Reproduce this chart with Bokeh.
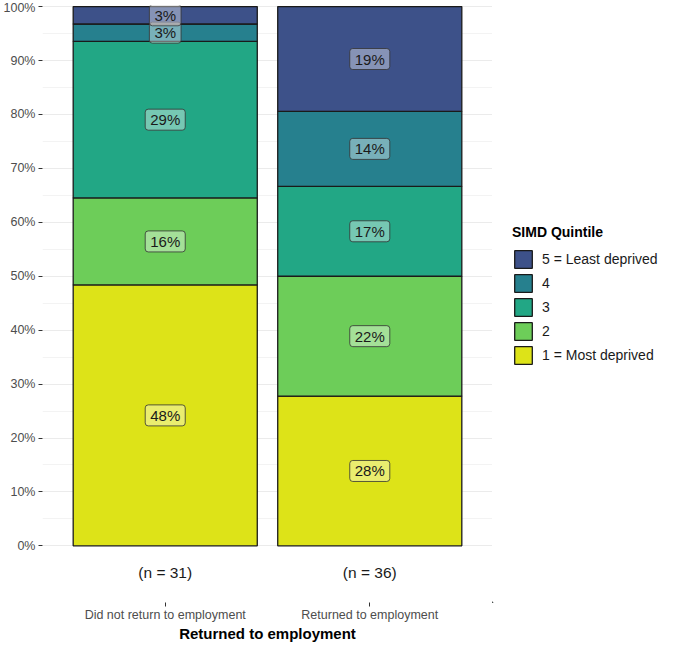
from bokeh.plotting import figure
from bokeh.layouts import row
from bokeh.models import (ColumnDataSource, FixedTicker, NumeralTickFormatter,
                          Legend, LegendItem)
from bokeh.core.properties import value
from bokeh.embed import file_html
from bokeh.resources import INLINE

# ---- data ----
groups = ["Did not return to employment", "Returned to employment"]
group_n = [31, 36]
quintiles = ["1 = Most deprived", "2", "3", "4", "5 = Least deprived"]
# counts per quintile (1..5) in each group
counts_not_returned = [15, 5, 9, 1, 1]
counts_returned = [10, 8, 6, 5, 7]
colors = ["#DDE318", "#6DCD59", "#22A785", "#26808E", "#3D5189"]

FONT = "Liberation Sans"
xs = [1, 2]
group_counts = [counts_not_returned, counts_returned]

p = figure(width=492, height=644, output_backend="svg",
           toolbar_location=None,
           x_range=(0.4, 2.6), y_range=(-0.105, 1.002),
           min_border_top=5, min_border_left=2, min_border_right=0,
           min_border_bottom=0)
p.outline_line_color = None
p.background_fill_color = "white"

# stacked bars
renderers = []
bottoms = [0.0, 0.0]
label_x, label_y, label_t = [], [], []
for qi, q in enumerate(quintiles):
    props = [group_counts[g][qi] / group_n[g] for g in range(2)]
    tops = [bottoms[g] + props[g] for g in range(2)]
    src = ColumnDataSource(dict(x=xs, bottom=list(bottoms), top=tops))
    r = p.vbar(x="x", bottom="bottom", top="top", width=0.9, source=src,
               fill_color=colors[qi], line_color="#1a1a1a", line_width=1.3)
    renderers.append(r)
    for g in range(2):
        label_x.append(xs[g])
        label_y.append(bottoms[g] + props[g] / 2)
        label_t.append(f"{round(props[g] * 100)}%")
    bottoms = tops

lab_src = ColumnDataSource(dict(x=label_x, y=label_y, t=label_t))
p.text(x="x", y="y", text="t", source=lab_src, text_align="center",
       text_baseline="middle", text_font=value(FONT), text_font_size="15px",
       text_color="#1a1a1a", background_fill_color="white",
       background_fill_alpha=0.38, border_line_color="#333333",
       border_line_alpha=0.8, border_line_width=1, border_radius=3,
       padding=(5, 2))

# n annotations
n_src = ColumnDataSource(dict(x=xs, y=[-0.05, -0.05],
                              t=[f"(n = {n})" for n in group_n]))
p.text(x="x", y="y", text="t", source=n_src, text_align="center",
       text_baseline="middle", text_font=value(FONT), text_font_size="15.5px",
       text_color="#1a1a1a")

# y axis
p.yaxis.ticker = FixedTicker(ticks=[i / 10 for i in range(11)],
                             minor_ticks=[0.05 + i / 10 for i in range(10)])
p.yaxis.formatter = NumeralTickFormatter(format="0%")
p.yaxis.axis_line_color = None
p.yaxis.major_tick_out = 4
p.yaxis.major_tick_in = 0
p.yaxis.minor_tick_out = 0
p.yaxis.minor_tick_in = 0
p.yaxis.major_tick_line_color = "#333333"
p.yaxis.major_label_text_font = FONT
p.yaxis.major_label_text_font_size = "12.5px"
p.yaxis.major_label_text_color = "#4D4D4D"
p.yaxis.major_label_standoff = 3

# x axis
p.xaxis.ticker = FixedTicker(ticks=xs)
p.xaxis.major_label_overrides = {xs[i]: groups[i] for i in range(2)}
p.xaxis.axis_line_color = None
p.xaxis.major_tick_out = 4
p.xaxis.major_tick_in = 0
p.xaxis.minor_tick_out = 0
p.xaxis.major_tick_line_color = "#333333"
p.xaxis.major_label_text_font = FONT
p.xaxis.major_label_text_font_size = "12.5px"
p.xaxis.major_label_text_color = "#4D4D4D"
p.xaxis.major_label_standoff = 1
p.xaxis.axis_label = "Returned to employment"
p.xaxis.axis_label_text_font = FONT
p.xaxis.axis_label_text_font_size = "15px"
p.xaxis.axis_label_text_font_style = "bold"
p.xaxis.axis_label_text_color = "#000000"
p.xaxis.axis_label_standoff = 0

# grid
p.xgrid.grid_line_color = None
p.ygrid.grid_line_color = "#EBEBEB"
p.ygrid.grid_line_width = 1
p.ygrid.minor_grid_line_color = "#F3F3F3"
p.ygrid.minor_grid_line_width = 1

# legend in its own small figure (5 at top); its bars lie far outside the view
lf = figure(width=167, height=644, output_backend="svg", toolbar_location=None,
            x_axis_type=None, y_axis_type=None, x_range=(0, 1), y_range=(0, 1),
            min_border=0)
lf.outline_line_color = None
lf.xgrid.grid_line_color = None
lf.ygrid.grid_line_color = None
leg_renderers = []
for qi in range(5):
    off = ColumnDataSource(dict(x=[-50], bottom=[-50], top=[-49]))
    leg_renderers.append(lf.vbar(x="x", bottom="bottom", top="top", width=0.9,
                                 source=off, fill_color=colors[qi],
                                 line_color="#1a1a1a", line_width=1.3))
items = [LegendItem(label=quintiles[i], renderers=[leg_renderers[i]])
         for i in range(4, -1, -1)]
legend = Legend(items=items, location=(20, 236))
legend.title = "SIMD Quintile"
legend.title_text_font = FONT
legend.title_text_font_size = "14px"
legend.title_text_font_style = "bold"
legend.title_text_color = "#000000"
legend.title_standoff = 8
legend.label_text_font = FONT
legend.label_text_font_size = "14px"
legend.label_text_color = "#1a1a1a"
legend.glyph_width = 22
legend.glyph_height = 22
legend.label_height = 22
legend.spacing = 2
legend.label_standoff = 8
legend.padding = 0
legend.margin = 0
legend.border_line_alpha = 0
legend.background_fill_alpha = 0
lf.add_layout(legend)

layout = row(p, lf, spacing=0)
open("out.html", "w").write(file_html(layout, INLINE))
